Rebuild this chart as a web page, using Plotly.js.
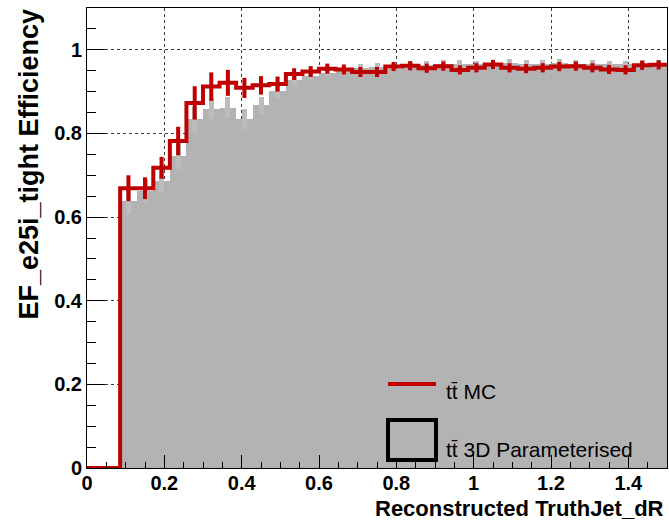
<!DOCTYPE html>
<html>
<head>
<meta charset="utf-8">
<script src="https://cdn.plot.ly/plotly-3.0.1.min.js"></script>
<style>
  html, body { margin: 0; padding: 0; background: #ffffff; }
  #chart { width: 669px; height: 520px; }
</style>
</head>
<body>
<div id="chart"></div>
<script>
// Binning of the histograms (35 bins between 0 and 1.5)
const nBins = 35;
const xMin = 0;
const xMax = 1.5;

// tt MC efficiency (red) and its errors
const mcEff = [0, 0, 0.669, 0.669, 0.718, 0.782, 0.873, 0.912, 0.921, 0.909,
  0.915, 0.918, 0.942, 0.948, 0.955, 0.953, 0.947, 0.947, 0.960, 0.962,
  0.956, 0.961, 0.952, 0.957, 0.965, 0.957, 0.955, 0.957, 0.960, 0.961,
  0.957, 0.953, 0.952, 0.963, 0.964];
const mcErr = [0, 0, 0.031, 0.026, 0.026, 0.034, 0.040, 0.034, 0.031, 0.024,
  0.022, 0.018, 0.014, 0.013, 0.012, 0.012, 0.012, 0.012, 0.011, 0.011,
  0.011, 0.011, 0.011, 0.011, 0.011, 0.011, 0.011, 0.011, 0.011, 0.011,
  0.011, 0.011, 0.011, 0.011, 0.011];

// tt 3D parameterised efficiency (grey) and its errors
const paramEff = [0, 0, 0.638, 0.662, 0.686, 0.746, 0.834, 0.859, 0.862, 0.834,
  0.867, 0.901, 0.928, 0.937, 0.945, 0.950, 0.957, 0.960, 0.955, 0.962,
  0.964, 0.966, 0.966, 0.965, 0.963, 0.969, 0.967, 0.967, 0.968, 0.966,
  0.967, 0.965, 0.965, 0.967, 0.967];
const paramErr = [0, 0, 0.030, 0.028, 0.028, 0.030, 0.030, 0.025, 0.025, 0.024,
  0.020, 0.016, 0.012, 0.011, 0.010, 0.010, 0.010, 0.009, 0.009, 0.009,
  0.009, 0.009, 0.009, 0.009, 0.009, 0.009, 0.009, 0.009, 0.009, 0.009,
  0.009, 0.009, 0.009, 0.009, 0.009];

// Text
const xTitle = 'Reconstructed TruthJet_dR';
const yTitle = 'EF_e25i_tight Efficiency';
const legendLabels = ['tt\u0304 MC', 'tt\u0304 3D Parameterised'];

// ---- derived quantities ----
const binW = (xMax - xMin) / nBins;
const edges = [];
for (let i = 0; i <= nBins; i++) edges.push(xMin + i * binW);
const centers = edges.slice(0, nBins).map(e => e + binW / 2);

const red = 'rgb(190,0,0)';
const grey = 'rgb(179,179,179)';
const font = 'Liberation Sans, Arial, Helvetica, sans-serif';

// step line for MC histogram
const stepX = edges.slice();
const stepY = mcEff.concat([mcEff[mcEff.length - 1]]);

// error-bar subsets (only bins with content)
const errIdx = mcEff.map((v, i) => i).filter(i => mcErr[i] > 0);

const traces = [
  {
    type: 'bar',
    x: centers,
    y: paramEff,
    width: binW,
    marker: { color: grey, line: { width: 0 } },
    error_y: { type: 'data', array: paramErr, visible: true, color: 'rgb(188,188,188)', thickness: 5, width: 0 },
    hoverinfo: 'skip',
    showlegend: false
  },
  {
    type: 'scatter',
    mode: 'lines',
    x: stepX,
    y: stepY,
    line: { color: red, width: 4, shape: 'hv' },
    hoverinfo: 'skip',
    showlegend: false
  },
  {
    type: 'scatter',
    mode: 'markers',
    x: errIdx.map(i => centers[i]),
    y: errIdx.map(i => mcEff[i]),
    marker: { size: 1, color: red, opacity: 0 },
    error_y: { type: 'data', array: errIdx.map(i => mcErr[i]), visible: true, color: red, thickness: 4, width: 0 },
    hoverinfo: 'skip',
    showlegend: false
  }
];

const L = 87, R = 2, T = 8, B = 52, W = 669, H = 520;
const pw = W - L - R, ph = H - T - B;
const px = p => (p - L) / pw;
const py = p => (H - B - p) / ph;

const layout = {
  width: W,
  height: H,
  margin: { l: L, r: R, t: T, b: B, pad: 0 },
  paper_bgcolor: '#ffffff',
  plot_bgcolor: '#ffffff',
  bargap: 0,
  showlegend: false,
  font: { family: font, color: '#000000' },
  xaxis: {
    range: [xMin, xMax],
    dtick: 0.2,
    tick0: 0,
    ticks: 'inside',
    ticklen: 13,
    tickwidth: 1,
    tickcolor: '#000000',
    ticklabelstandoff: -3,
    showline: true,
    linecolor: '#000000',
    linewidth: 1,
    mirror: true,
    showgrid: true,
    gridcolor: 'rgb(60,60,60)',
    griddash: 'dot',
    gridwidth: 1,
    zeroline: false,
    tickfont: { family: font, size: 20, color: '#000000', weight: 'bold' },
    minor: { dtick: 0.05, ticks: 'inside', ticklen: 6, tickcolor: '#000000', showgrid: false }
  },
  yaxis: {
    range: [0, 1.1],
    dtick: 0.2,
    tick0: 0,
    ticks: 'inside',
    ticklen: 18,
    tickwidth: 1,
    tickcolor: '#000000',
    showline: true,
    linecolor: '#000000',
    linewidth: 1,
    mirror: true,
    showgrid: true,
    gridcolor: 'rgb(60,60,60)',
    griddash: 'dot',
    gridwidth: 1,
    zeroline: false,
    tickfont: { family: font, size: 20, color: '#000000', weight: 'bold' },
    minor: { dtick: 0.05, ticks: 'inside', ticklen: 9, tickcolor: '#000000', showgrid: false }
  },
  shapes: [
    { type: 'line', xref: 'paper', yref: 'paper', x0: px(388), x1: px(436), y0: py(384), y1: py(384),
      line: { color: red, width: 4 } },
    { type: 'rect', xref: 'paper', yref: 'paper', x0: px(388), x1: px(436), y0: py(460), y1: py(420),
      fillcolor: grey, line: { color: '#000000', width: 4 } }
  ],
  annotations: [
    { xref: 'paper', yref: 'paper', x: px(666), y: py(508), xanchor: 'right', yanchor: 'middle',
      text: xTitle, showarrow: false, font: { family: font, size: 22, color: '#000000', weight: 'bold' } },
    { xref: 'paper', yref: 'paper', x: px(29), y: py(7), xanchor: 'center', yanchor: 'top', textangle: -90,
      text: yTitle, showarrow: false, font: { family: font, size: 27, color: '#000000', weight: 'bold' } },
    { xref: 'paper', yref: 'paper', x: px(444), y: py(391), xanchor: 'left', yanchor: 'middle',
      text: legendLabels[0], showarrow: false, font: { family: font, size: 21, color: '#000000' } },
    { xref: 'paper', yref: 'paper', x: px(444), y: py(449), xanchor: 'left', yanchor: 'middle',
      text: legendLabels[1], showarrow: false, font: { family: font, size: 21, color: '#000000' } }
  ]
};

Plotly.newPlot('chart', traces, layout, { staticPlot: true, displayModeBar: false });
</script>
</body>
</html>
